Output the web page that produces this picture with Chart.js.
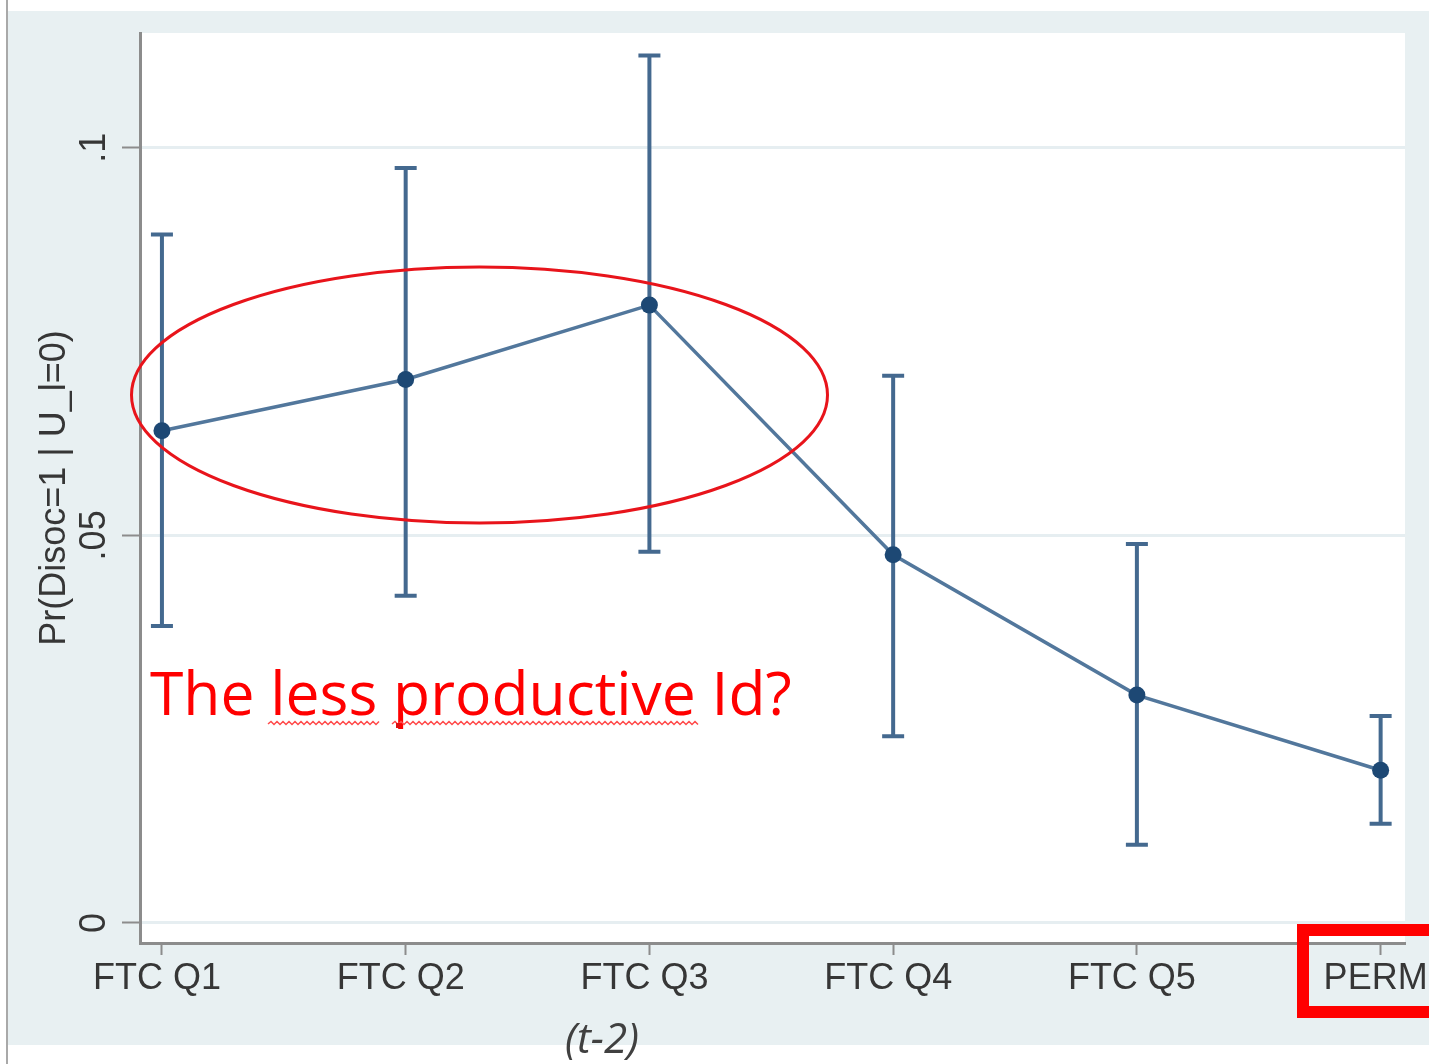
<!DOCTYPE html>
<html>
<head>
<meta charset="utf-8">
<script src="https://cdn.jsdelivr.net/npm/chart.js@4.4.0/dist/chart.umd.min.js"></script>
<style>
  html, body { margin: 0; padding: 0; background: #ffffff; }
  #wrap { width: 1429px; height: 1064px; position: relative; }
  canvas { display: block; }
</style>
</head>
<body>
<div id="wrap"><canvas id="c" width="1429" height="1064"></canvas></div>
<script>
// ---- data ----
const categories = ['FTC Q1', 'FTC Q2', 'FTC Q3', 'FTC Q4', 'FTC Q5', 'PERM'];
const estimates  = [0.0635, 0.0701, 0.0797, 0.0475, 0.0294, 0.0197];
const ciUpper    = [0.0888, 0.0974, 0.1119, 0.0706, 0.0489, 0.0267];
const ciLower    = [0.0383, 0.0422, 0.0479, 0.0241, 0.0101, 0.0128];
const yTickValues = [0, 0.05, 0.1];
const yTickLabels = ['0', '.05', '.1'];
const yTitle = 'Pr(Disoc=1 | U_l=0)';
const noteText = 'The less productive Id?';
const subNote = '(t-2)';

const points = categories.map((c, i) => ({ x: i, y: estimates[i] }));

const AXIS_FONT = '"Liberation Sans", Arial, sans-serif';

const backgroundPlugin = {
  id: 'bg',
  beforeDraw(chart) {
    const { ctx, chartArea: a } = chart;
    ctx.save();
    ctx.fillStyle = '#ffffff';
    ctx.fillRect(0, 0, chart.width, chart.height);
    ctx.fillStyle = '#e8f0f2';
    ctx.fillRect(8, 11, chart.width - 8, 1034);
    ctx.fillStyle = '#ffffff';
    ctx.fillRect(a.left, a.top, a.right - a.left, a.bottom - a.top);
    ctx.strokeStyle = '#a9a9a9';
    ctx.lineWidth = 2;
    ctx.beginPath(); ctx.moveTo(7, 0); ctx.lineTo(7, chart.height); ctx.stroke();
    ctx.restore();
  }
};

const errorBarPlugin = {
  id: 'errbars',
  beforeDatasetsDraw(chart) {
    const { ctx, scales: { x, y } } = chart;
    ctx.save();
    ctx.strokeStyle = '#44698f';
    ctx.lineWidth = 4;
    ctx.lineCap = 'butt';
    categories.forEach((c, i) => {
      const px = x.getPixelForValue(i);
      const hi = y.getPixelForValue(ciUpper[i]);
      const lo = y.getPixelForValue(ciLower[i]);
      ctx.beginPath();
      ctx.moveTo(px, hi); ctx.lineTo(px, lo);
      ctx.moveTo(px - 11, hi); ctx.lineTo(px + 11, hi);
      ctx.moveTo(px - 11, lo); ctx.lineTo(px + 11, lo);
      ctx.stroke();
    });
    ctx.restore();
  }
};

const annotationPlugin = {
  id: 'notes',
  afterDraw(chart) {
    const { ctx, scales: { x, y } } = chart;
    ctx.save();
    // rotated y tick labels
    ctx.fillStyle = '#363636';
    ctx.font = '36px ' + AXIS_FONT;
    ctx.textAlign = 'center';
    ctx.textBaseline = 'middle';
    yTickValues.forEach((v, i) => {
      const py = y.getPixelForValue(v);
      ctx.save();
      ctx.translate(95, py);
      ctx.rotate(-Math.PI / 2);
      ctx.fillText(yTickLabels[i], 0, 0);
      ctx.restore();
    });

    // red ellipse
    ctx.strokeStyle = '#e8141b';
    ctx.lineWidth = 3;
    ctx.beginPath();
    ctx.ellipse(479.5, 395, 348, 128, 0, 0, Math.PI * 2);
    ctx.stroke();

    // red note text
    ctx.fillStyle = '#ff0000';
    ctx.textAlign = 'left';
    ctx.textBaseline = 'alphabetic';
    ctx.font = '60px "Open Sans", sans-serif';
    const w = ctx.measureText(noteText).width;
    const fs = 60 * 642 / w;
    ctx.font = fs.toFixed(1) + 'px "Open Sans", sans-serif';
    ctx.fillText(noteText, 150, 715);

    // wavy underline
    ctx.strokeStyle = '#ff4a4a';
    ctx.lineWidth = 1.5;
    const wave = (x0, x1, yy) => {
      ctx.beginPath();
      let up = true;
      ctx.moveTo(x0, yy);
      for (let xx = x0 + 3; xx <= x1; xx += 3) {
        ctx.lineTo(xx, up ? yy - 2.5 : yy + 0.5);
        up = !up;
      }
      ctx.stroke();
    };
    wave(268, 381, 724);
    wave(392, 699, 724);
    ctx.fillStyle = '#e01010';
    ctx.fillRect(396, 723, 4, 5);

    // red rectangle around PERM
    ctx.strokeStyle = '#ff0000';
    ctx.lineWidth = 12;
    ctx.strokeRect(1303, 930, 200, 82);

    // (t-2)
    ctx.fillStyle = '#404040';
    ctx.textAlign = 'center';
    ctx.font = 'italic 42px "Open Sans", sans-serif';
    ctx.fillText(subNote, 602, 1053);
    ctx.restore();
  }
};

new Chart(document.getElementById('c'), {
  type: 'line',
  data: {
    datasets: [{
      data: points,
      borderColor: '#52779c',
      borderWidth: 3.5,
      pointRadius: 8.5,
      pointHoverRadius: 8.5,
      pointBackgroundColor: '#1d4874',
      pointBorderColor: '#1d4874',
      pointBorderWidth: 0,
      tension: 0,
      clip: false
    }]
  },
  options: {
    responsive: false,
    devicePixelRatio: 1,
    animation: false,
    events: [],
    layout: { padding: { left: 0, top: 33, right: 24, bottom: 0 } },
    plugins: { legend: { display: false }, tooltip: { enabled: false } },
    scales: {
      x: {
        type: 'linear',
        min: -0.09,
        max: 5.1,
        afterBuildTicks(s) { s.ticks = categories.map((c, i) => ({ value: i })); },
        afterFit(s) { s.height = 121; s.paddingLeft = 0; s.paddingRight = 0; },
        ticks: {
          autoSkip: false,
          maxRotation: 0,
          minRotation: 0,
          padding: 2,
          labelOffset: -5,
          color: '#363636',
          font: { family: AXIS_FONT, size: 36 },
          callback: (v) => categories[v] ?? ''
        },
        grid: {
          drawOnChartArea: false,
          drawTicks: true,
          tickLength: 12,
          tickWidth: 2,
          tickColor: '#8c8c8c'
        },
        border: { display: true, color: '#8c8c8c', width: 3 }
      },
      y: {
        type: 'linear',
        min: -0.00258,
        max: 0.1148,
        afterBuildTicks(s) { s.ticks = yTickValues.map(v => ({ value: v })); },
        afterFit(s) { s.width = 140; s.paddingTop = 0; s.paddingBottom = 0; },
        ticks: { display: false },
        grid: {
          color: '#e6eef1',
          lineWidth: 3,
          drawTicks: true,
          tickLength: 18,
          tickWidth: 2,
          tickColor: '#8c8c8c'
        },
        border: { display: true, color: '#8c8c8c', width: 3 },
        title: {
          display: true,
          text: yTitle,
          color: '#363636',
          font: { family: AXIS_FONT, size: 36 },
          padding: { top: 33, bottom: 0 }
        }
      }
    }
  },
  plugins: [backgroundPlugin, errorBarPlugin, annotationPlugin]
});
</script>
</body>
</html>
